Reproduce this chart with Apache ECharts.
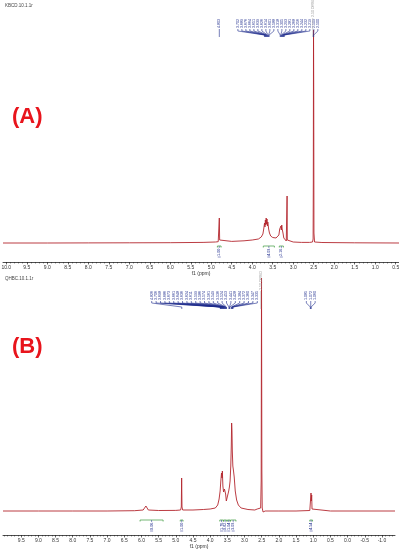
<!DOCTYPE html>
<html><head><meta charset="utf-8">
<script src="https://cdn.jsdelivr.net/npm/echarts@6/dist/echarts.min.js"></script>
<style>html,body{margin:0;padding:0;background:#fff}#c{width:399px;height:550px}</style>
</head><body><div id="c"></div>
<script>
// ---------- DATA ----------
// Spectrum A (KBCD): [ppm, relative intensity]
const specA = [[10.08,0],[9.0,0],[8.0,0.1],[7.0,0.2],[6.0,0.3],[5.2,0.6],[4.9,1.0],[4.83,1.3],[4.812,3],[4.803,25],[4.795,3],[4.78,1.3],[4.5,1.6],[4.2,2.2],[4.0,3],[3.85,4],[3.78,6],[3.74,9],[3.72,14],[3.70,20],[3.69,16],[3.68,23],[3.67,18],[3.66,25],[3.65,19],[3.64,24],[3.63,17],[3.62,21],[3.60,14],[3.58,10],[3.55,7],[3.50,5.5],[3.42,5],[3.38,6],[3.35,8],[3.33,14],[3.31,12],[3.30,17],[3.29,13],[3.28,18],[3.27,14],[3.26,16],[3.25,10],[3.23,5],[3.20,3],[3.17,2],[3.155,3],[3.15,47],[3.145,3],[3.13,2],[3.0,1],[2.8,0.6],[2.6,0.6],[2.53,1],[2.515,4],[2.51,60],[2.505,213],[2.50,150],[2.495,10],[2.48,1],[2.3,0.5],[1.5,0.2],[0.42,0]];
// Spectrum B (QHBC)
const specB = [[10.03,0],[9.0,0],[8.0,0],[7.0,0],[6.2,0.3],[5.95,1],[5.9,3],[5.87,5],[5.84,3],[5.8,1],[5.5,0.5],[5.0,0.6],[4.86,1],[4.84,4],[4.83,33],[4.82,4],[4.80,1],[4.5,1],[4.2,1.5],[4.0,2],[3.85,3],[3.78,6],[3.74,12],[3.71,20],[3.69,30],[3.67,38],[3.655,33],[3.645,40],[3.63,25],[3.61,19],[3.585,22],[3.57,23],[3.55,17],[3.53,10],[3.51,8],[3.49,12],[3.46,20],[3.44,24],[3.42,30],[3.40,45],[3.385,65],[3.375,88],[3.365,80],[3.355,60],[3.34,45],[3.32,40],[3.30,34],[3.27,20],[3.23,11],[3.18,6],[3.1,3],[2.9,1.5],[2.7,1],[2.63,2],[2.61,3],[2.59,1.5],[2.53,3],[2.515,30],[2.505,233],[2.495,40],[2.485,3],[2.46,-1],[2.40,0],[2.0,0],[1.5,0],[1.1,0.5],[1.08,2],[1.065,18],[1.055,10],[1.045,16],[1.035,2],[1.0,0.3],[0.5,0],[-1.38,0]];

// Peak labels (ppm)
const peaksA = [4.803,3.702,3.689,3.676,3.664,3.651,3.639,3.626,3.614,3.601,3.588,3.318,3.305,3.293,3.281,3.268,3.256,3.244,3.232,3.219,2.509,2.500];
const peaksB = [4.826,3.706,3.698,3.686,3.673,3.661,3.648,3.636,3.624,3.611,3.599,3.586,3.574,3.561,3.549,3.536,3.524,3.453,3.441,3.428,3.384,3.372,3.360,3.347,3.335,1.085,1.072,1.060];
const solventA = [2.500];
const solventB = [2.500];

// Integrals [from ppm, to ppm, value]
const integA = [[4.85,4.76,'1.00'],[3.73,3.46,'4.03'],[3.34,3.24,'2.16']];
const integB = [[6.04,5.37,'0.06'],[4.87,4.79,'1.00'],[3.72,3.62,'1.76'],[3.61,3.52,'0.82'],[3.50,3.42,'1.04'],[3.41,3.25,'3.03'],[1.10,1.02,'4.54']];

// Axis tick labels
const ticksA = ['10.0','9.5','9.0','8.5','8.0','7.5','7.0','6.5','6.0','5.5','5.0','4.5','4.0','3.5','3.0','2.5','2.0','1.5','1.0','0.5'];
const ticksB = ['9.5','9.0','8.5','8.0','7.5','7.0','6.5','6.0','5.5','5.0','4.5','4.0','3.5','3.0','2.5','2.0','1.5','1.0','0.5','0.0','-0.5','-1.0'];
const fileA = 'KBCD.10.1.1r';
const fileB = 'QHBC.10.1.1r';

// ---------- RENDER ----------
const SPEC = '#b3262e', LAB = '#1c2a8c', GRN = '#3a9a3a';
function minorList(lo, hi){const a=[];for(let v=Math.ceil(lo*10);v<=Math.floor(hi*10);v++)a.push(v/10);return a;}
function dodge(xs, gap, maxX){
  const out=[];
  const groups=[xs.map((x,i)=>i).filter(i=>xs[i]<maxX), xs.map((x,i)=>i).filter(i=>xs[i]>=maxX)];
  groups.forEach((sub,gi)=>{
    const idx=sub.slice().sort((a,b)=>xs[a]-xs[b]);
    let blocks=idx.map(i=>({ids:[i],c:xs[i]}));
    const clamp=b=>{if(gi===0){const lim=maxX-(b.ids.length-1)/2*gap;if(b.c>lim)b.c=lim;}};
    blocks.forEach(clamp);
    let m=true;
    while(m){m=false;
      for(let k=0;k<blocks.length-1;k++){
        const a=blocks[k],b=blocks[k+1];
        const aE=a.c+(a.ids.length-1)/2*gap, bS=b.c-(b.ids.length-1)/2*gap;
        if(bS-aE<gap-1e-6){const ids=a.ids.concat(b.ids);const c=ids.reduce((s,i)=>s+xs[i],0)/ids.length;const nb={ids,c};clamp(nb);blocks.splice(k,2,nb);m=true;break;}
      }}
    blocks.forEach(b=>b.ids.forEach((i,j)=>out[i]=b.c+(j-(b.ids.length-1)/2)*gap));
  });
  return out;
}
function peakSeries(ai, peaks, solv, cfg){
  return {type:'custom',xAxisIndex:ai,yAxisIndex:ai,data:[0],silent:true,clip:false,z:5,
    renderItem:function(params,api){
      const xs=peaks.map(p=>api.coord([p,0])[0]);
      const sx=solv.map(p=>api.coord([p,0])[0]);
      const maxX=cfg.bound?Math.min.apply(null,sx)-cfg.gap:1e9;
      const pos=dodge(xs,cfg.gap,maxX);
      const ch=[];
      peaks.forEach((p,i)=>{
        ch.push({type:'text',x:pos[i],y:cfg.tb,rotation:Math.PI/2,style:{text:p.toFixed(3),fontSize:3.6,fontFamily:'Arial',fill:LAB,align:'left',verticalAlign:'middle'}});
        ch.push({type:'polyline',shape:{points:[[pos[i],cfg.tb+1],[pos[i],cfg.tb+3],[xs[i],cfg.tb+7],[xs[i],cfg.tb+9]]},style:{stroke:LAB,lineWidth:0.6,fill:null}});
      });
      sx.forEach((x,k)=>{
        ch.push({type:'text',x:x-1,y:cfg.sb,rotation:Math.PI/2,style:{text:solv[k].toFixed(2)+' DMSO',fontSize:3.6,fontFamily:'Arial',fill:'#999',align:'left',verticalAlign:'middle'}});
        ch.push({type:'line',shape:{x1:x-1,y1:cfg.sb+1,x2:x-1,y2:cfg.tb+9},style:{stroke:'#aaa',lineWidth:0.5}});
      });
      return {type:'group',children:ch};
    }};
}
function integSeries(ai, integ, cfg){
  return {type:'custom',xAxisIndex:ai,yAxisIndex:ai,data:[0],silent:true,clip:false,z:5,
    renderItem:function(params,api){
      const ch=[];
      integ.forEach(d=>{
        const x1=api.coord([d[0],0])[0], x2=api.coord([d[1],0])[0], xm=(x1+x2)/2;
        ch.push({type:'polyline',shape:{points:[[x1,cfg.y+1.5],[x1,cfg.y],[x2,cfg.y],[x2,cfg.y+1.5]]},style:{stroke:GRN,lineWidth:0.7,fill:null}});
        ch.push({type:'line',shape:{x1:xm,y1:cfg.y,x2:xm,y2:cfg.y+2},style:{stroke:LAB,lineWidth:0.5}});
        ch.push({type:'text',x:xm,y:cfg.y+10,rotation:Math.PI/2,style:{text:d[2],fontSize:3.8,fontFamily:'Arial',fill:LAB,align:'left',verticalAlign:'middle'}});
        ch.push({type:'line',shape:{x1:xm-1.5,y1:cfg.y+11,x2:xm+1.5,y2:cfg.y+11},style:{stroke:LAB,lineWidth:0.5}});
      });
      return {type:'group',children:ch};
    }};
}
function xAx(gi,min,max,labels){
  return {type:'value',gridIndex:gi,inverse:true,min:min,max:max,position:'bottom',
    name:'f1 (ppm)',nameLocation:'middle',nameGap:9,nameTextStyle:{fontSize:5,color:'#333',fontFamily:'Arial'},
    axisLine:{show:true,onZero:false,lineStyle:{color:'#222',width:0.8}},
    axisTick:{show:true,length:2.5,lineStyle:{color:'#222',width:0.6},customValues:labels.map(Number)},
    axisLabel:{show:true,fontSize:5,color:'#333',fontFamily:'Arial',margin:3,customValues:labels.map(Number),formatter:v=>v.toFixed(1)},
    splitLine:{show:false}};
}
function xMinor(gi,min,max){
  return {type:'value',gridIndex:gi,inverse:true,min:min,max:max,position:'bottom',offset:0,
    axisLine:{show:false,onZero:false},axisLabel:{show:false},splitLine:{show:false},
    axisTick:{show:true,length:1.5,lineStyle:{color:'#222',width:0.5},customValues:minorList(min,max)}};
}
const chart = echarts.init(document.getElementById('c'),null,{renderer:'canvas'});
chart.setOption({
  animation:false,
  grid:[{left:3,top:0,width:396,height:262,containLabel:false,outerBoundsMode:'none'},
        {left:3,top:275,width:392,height:260,containLabel:false,outerBoundsMode:'none'}],
  xAxis:[xAx(0,0.42,10.08,ticksA),xAx(1,-1.38,10.03,ticksB),xMinor(0,0.42,10.08),xMinor(1,-1.38,10.03)],
  yAxis:[{type:'value',gridIndex:0,min:-19,max:243,show:false},{type:'value',gridIndex:1,min:-24,max:236,show:false}],
  graphic:[
    {type:'text',left:5,top:3,style:{text:fileA,fontSize:4.5,fill:'#444',fontFamily:'Arial'}},
    {type:'text',left:5,top:276,style:{text:fileB,fontSize:4.5,fill:'#444',fontFamily:'Arial'}},
    {type:'text',left:12,top:106,style:{text:'(A)',fontSize:22,fontWeight:'bold',fill:'#e8141c',fontFamily:'Arial'}},
    {type:'text',left:12,top:336,style:{text:'(B)',fontSize:22,fontWeight:'bold',fill:'#e8141c',fontFamily:'Arial'}}
  ],
  series:[
    {type:'line',xAxisIndex:0,yAxisIndex:0,data:specA,showSymbol:false,lineStyle:{color:SPEC,width:0.9},clip:false,z:3},
    {type:'line',xAxisIndex:1,yAxisIndex:1,data:specB,showSymbol:false,lineStyle:{color:SPEC,width:0.9},clip:false,z:3},
    peakSeries(0,peaksA,solventA,{gap:4.0,tb:28,sb:17,bound:false}),
    peakSeries(1,peaksB,solventB,{gap:4.4,tb:300,sb:290,bound:true}),
    integSeries(0,integA,{y:246}),
    integSeries(1,integB,{y:520})
  ]
});
</script></body></html>
